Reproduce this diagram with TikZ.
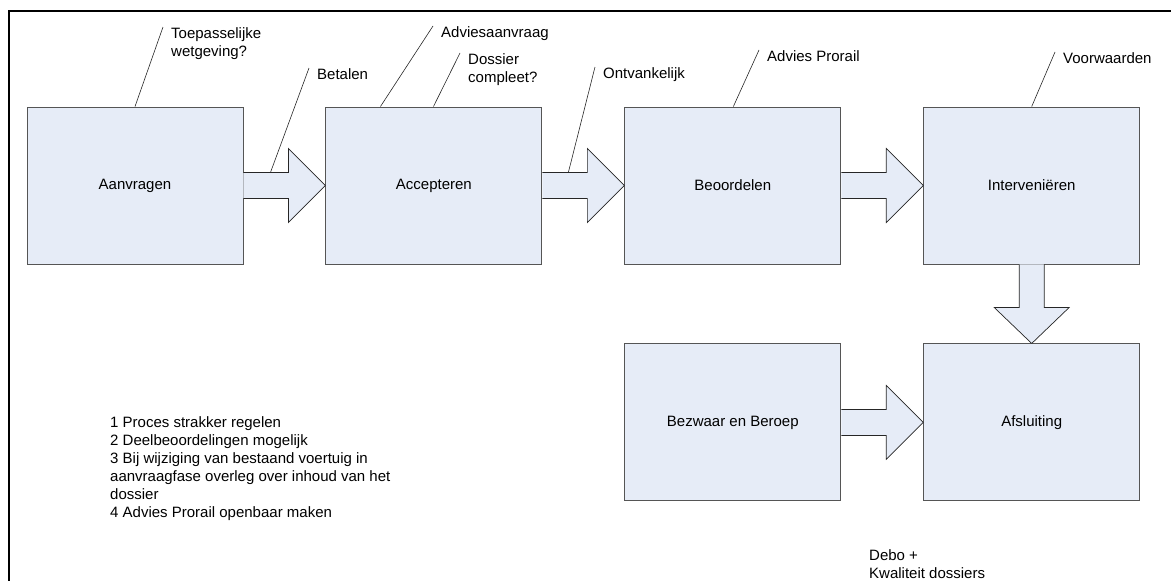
\documentclass[tikz,border=0pt]{standalone}
\usepackage{fontspec}
\setmainfont{Liberation Sans}
\usepackage{tikz}
\usetikzlibrary{calc,positioning}
\definecolor{boxfill}{RGB}{230,236,247}
\definecolor{boxline}{RGB}{85,85,85}
\tikzset{%
	stap/.style    = {draw=boxline, fill=boxfill, rectangle, line width=0.9pt, minimum width=216pt, minimum height=157pt, inner sep=0pt, text centered},
	pijl/.style    = {draw=black!85, fill=boxfill, line width=0.7pt, line join=miter},
	notitie/.style = {anchor=north west, inner xsep=8pt, inner ysep=0pt, align=left},
	lijn/.style    = {draw=black!85, line width=0.6pt},
}
% block arrow from the east side of #1 to the west side of #2
\newcommand{\Pijl}[2]{\filldraw[pijl] ($(#1.east)+(0,-13)$) -- ($(#2.west)+(-37,-13)$) -- ($(#2.west)+(-37,-37)$) -- (#2.west) -- ($(#2.west)+(-37,37)$) -- ($(#2.west)+(-37,13)$) -- ($(#1.east)+(0,13)$);}
% block arrow from the south side of #1 to the north side of #2
\newcommand{\PijlOmlaag}[2]{\filldraw[pijl] ($(#1.south)+(-12.5,0)$) -- ($(#2.north)+(-12.5,-36)$) -- ($(#2.north)+(-37.5,-36)$) -- (#2.north) -- ($(#2.north)+(37.5,-36)$) -- ($(#2.north)+(12.5,-36)$) -- ($(#1.south)+(12.5,0)$);}

\begin{document}
\begin{tikzpicture}[x=1pt,y=-1pt,font=\fontsize{15}{18}\selectfont]
	\useasboundingbox (0,0) rectangle (1171,581);
	\draw[line width=2pt] (8.5,581) -- (8.5,11) -- (1171,11);
	
	\node[stap] (aanvragen) at (135,185.5) {Aanvragen};
	\node[stap, right=82pt of aanvragen] (accepteren) {Accepteren};
	\node[stap, right=82pt of accepteren] (beoordelen) {Beoordelen};
	\node[stap, right=82pt of beoordelen] (interveni) {Interveniëren};
	\node[stap, below=79pt of beoordelen] (bezwaar) {Bezwaar en Beroep};
	\node[stap, right=82pt of bezwaar] (afsluiting) {Afsluiting};
	
	\Pijl{aanvragen}{accepteren}
	\Pijl{accepteren}{beoordelen}
	\Pijl{beoordelen}{interveni}
	\Pijl{bezwaar}{afsluiting}
	\PijlOmlaag{interveni}{afsluiting}
	
	\node[notitie] (toepasselijk) at (163,27) {Toepasselijke\\wetgeving?};
	\draw[lijn] (aanvragen.north) -- (toepasselijk.north west);
	\node[notitie] (betalen) at (309,68) {Betalen};
	\draw[lijn] ($(aanvragen.east)+(27,-13)$) -- (betalen.north west);
	\node[notitie] (adviesaanvraag) at (433,26) {Adviesaanvraag};
	\draw[lijn] ($(accepteren.north west)+(55,0)$) -- (adviesaanvraag.north west);
	\node[notitie] (dossier) at (460,53) {Dossier\\compleet?};
	\draw[lijn] ($(accepteren.north west)+(108,0)$) -- (dossier.north west);
	\node[notitie] (ontvankelijk) at (595,67) {Ontvankelijk};
	\draw[lijn] ($(accepteren.east)+(26,-13)$) -- (ontvankelijk.north west);
	\node[notitie] (prorail) at (759,50) {Advies Prorail};
	\draw[lijn] ($(beoordelen.north west)+(109,0)$) -- (prorail.north west);
	\node[notitie] (voorwaarden) at (1055,52) {Voorwaarden};
	\draw[lijn] (interveni.north) -- (voorwaarden.north west);
	
	\node[notitie, inner xsep=0pt] (punten) at (110,416) {1 Proces strakker regelen\\2 Deelbeoordelingen mogelijk\\3 Bij wijziging van bestaand voertuig in\\aanvraagfase overleg over inhoud van het\\dossier\\4 Advies Prorail openbaar maken};
	\node[notitie, inner xsep=0pt] (debo) at (869,549) {Debo +\\Kwaliteit dossiers};
\end{tikzpicture}
\end{document}
